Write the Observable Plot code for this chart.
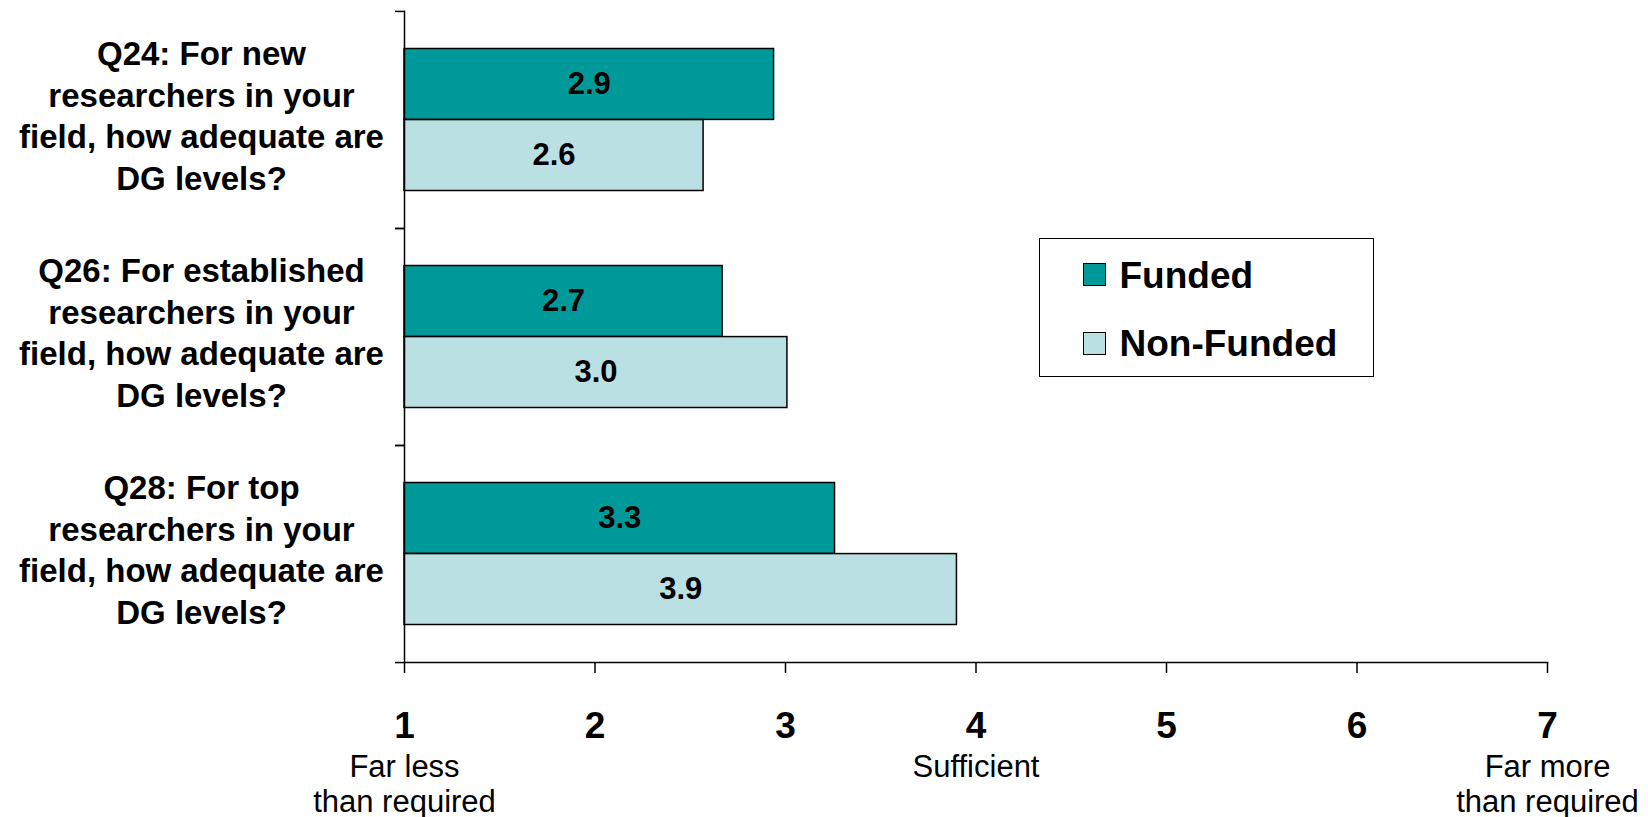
<!DOCTYPE html>
<html>
<head>
<meta charset="utf-8">
<script src="https://cdn.jsdelivr.net/npm/d3@7"></script>
<script src="https://cdn.jsdelivr.net/npm/@observablehq/plot@0.6"></script>
<style>
  html, body { margin: 0; padding: 0; background: #fff; }
  body { font-family: "Liberation Sans", Arial, sans-serif; }
  #wrap { position: relative; width: 1648px; height: 817px; overflow: hidden; }
  #legend { position: absolute; left: 1039px; top: 238px; width: 333px; height: 137px;
            border: 1.5px solid #000; background: #fff; }
  .sw { position: absolute; width: 21px; height: 21px; border: 1px solid #000; }
  .lab { position: absolute; font-weight: bold; font-size: 37px; line-height: 37px; white-space: nowrap; color: #000; }
</style>
</head>
<body>
<div id="wrap"></div>
<script>
// ---- data ----
const questions = ["Q24", "Q26", "Q28"];
const questionLabels = [
  "Q24: For new\nresearchers in your\nfield, how adequate are\nDG levels?",
  "Q26: For established\nresearchers in your\nfield, how adequate are\nDG levels?",
  "Q28: For top\nresearchers in your\nfield, how adequate are\nDG levels?"
];
const seriesNames = ["Funded", "Non-Funded"];
const funded = [2.94, 2.67, 3.26];
const nonFunded = [2.57, 3.01, 3.90];
const xTicks = [1, 2, 3, 4, 5, 6, 7];
const anchorTicks = [1, 4, 7];
const anchorLabels = ["Far less\nthan required", "Sufficient", "Far more\nthan required"];
const colors = ["#009999", "#BBE0E3"];

// ---- layout ----
const W = 1648, H = 817;
const mt = 10.5, mb = 155, ml = 404, mr = 101;
const bandH = (H - mt - mb) / questions.length;
const half = bandH / 2;
const outer = 37.5;
const font = '"Liberation Sans", Arial, sans-serif';

const rows = questions.flatMap((q, i) => [
  {question: q, series: seriesNames[0], value: funded[i]},
  {question: q, series: seriesNames[1], value: nonFunded[i]}
]);
const fRows = rows.filter(d => d.series === seriesNames[0]);
const nRows = rows.filter(d => d.series === seriesNames[1]);
const x0 = xTicks[0];

const chart = Plot.plot({
  width: W, height: H,
  marginTop: mt, marginBottom: mb, marginLeft: ml, marginRight: mr,
  style: {fontFamily: font, background: "#fff", color: "#000", overflow: "visible"},
  x: {domain: [x0, xTicks[xTicks.length - 1]], axis: null, label: null},
  y: {domain: questions, padding: 0, axis: null, label: null},
  color: {domain: seriesNames, range: colors},
  marks: [
    Plot.barX(fRows, {y: "question", x1: () => x0, x2: "value", fill: "series",
      stroke: "#000", strokeWidth: 1.5, insetTop: outer, insetBottom: half}),
    Plot.barX(nRows, {y: "question", x1: () => x0, x2: "value", fill: "series",
      stroke: "#000", strokeWidth: 1.5, insetTop: half, insetBottom: outer}),
    Plot.text(fRows, {y: "question", x: d => (x0 + d.value) / 2, text: d => d.value.toFixed(1),
      dy: -(half - outer) / 2, fontSize: 31, fontWeight: "bold", fill: "#000"}),
    Plot.text(nRows, {y: "question", x: d => (x0 + d.value) / 2, text: d => d.value.toFixed(1),
      dy: (half - outer) / 2, fontSize: 31, fontWeight: "bold", fill: "#000"}),
    // category labels
    Plot.text(questions, {y: d => d, text: (d, i) => questionLabels[i], frameAnchor: "left",
      dx: -203, dy: -6, textAnchor: "middle", lineHeight: 1.265, fontSize: 33, fontWeight: "bold", fill: "#000"}),
    // y axis line + boundary ticks
    Plot.ruleX([x0], {stroke: "#000", strokeWidth: 1.5}),
    Plot.axisY({tickSize: 9, tickFormat: () => "", label: null, dy: -half, strokeWidth: 1.5}),
    Plot.axisY({tickSize: 9, tickFormat: () => "", label: null, dy: half, strokeWidth: 1.5}),
    // x axis line
    Plot.frame({anchor: "bottom", stroke: "#000", strokeWidth: 1.5}),
    Plot.axisX({ticks: xTicks, tickSize: 11, tickPadding: 38.7, tickFormat: d => String(d), label: null,
      fontSize: 37, fontWeight: "bold", strokeWidth: 1.5}),
    Plot.axisX({ticks: anchorTicks, tickSize: 0, tickPadding: 89, label: null,
      tickFormat: d => anchorLabels[anchorTicks.indexOf(d)], fontSize: 31, lineHeight: 1.14})
  ]
});
const wrap = document.getElementById("wrap");
wrap.appendChild(chart);

// legend
const legend = document.createElement("div");
legend.id = "legend";
seriesNames.forEach((name, i) => {
  const sw = document.createElement("div");
  sw.className = "sw";
  sw.style.left = "42.5px";
  sw.style.top = (23.5 + i * 69) + "px";
  sw.style.background = colors[i];
  legend.appendChild(sw);
  const lab = document.createElement("div");
  lab.className = "lab";
  lab.style.left = "79.5px";
  lab.style.top = (17.5 + i * 68) + "px";
  lab.textContent = name;
  legend.appendChild(lab);
});
wrap.appendChild(legend);
</script>
</body>
</html>
